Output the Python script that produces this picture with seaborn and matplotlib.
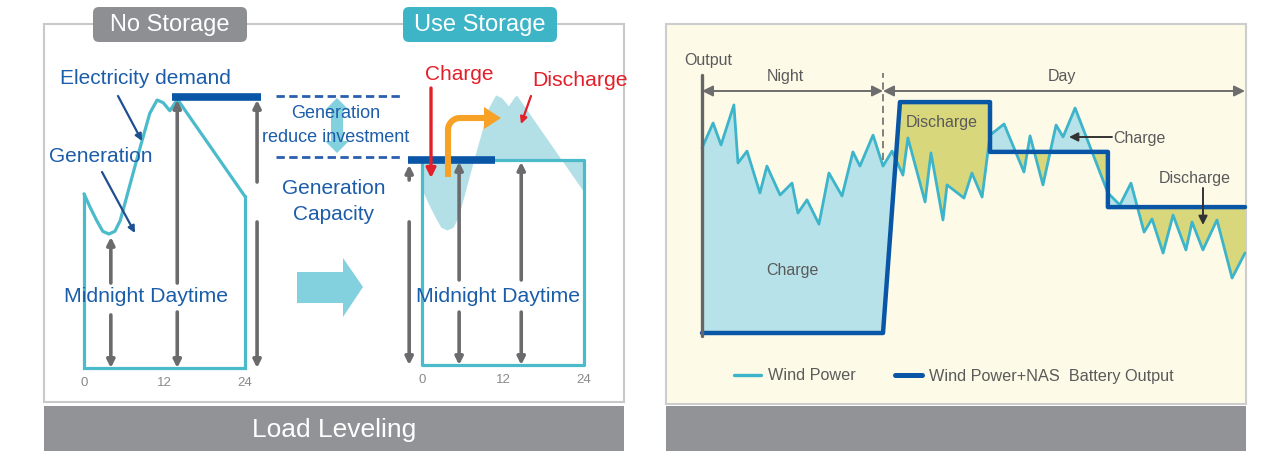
import numpy as np
import matplotlib
matplotlib.use("Agg")
import matplotlib.pyplot as plt
import seaborn as sns
from matplotlib.patches import FancyBboxPatch, Rectangle, Polygon
from matplotlib.lines import Line2D

# ---------------- data ----------------
# daily electricity demand (schematic, % of peak) by hour
demand_hours = [0, 0.9, 1.9, 2.8, 3.7, 4.6, 5.4, 8.0, 9.8, 10.9, 11.8, 12.8, 13.6, 14.0, 24]
demand = [65, 60, 55, 51, 50, 51, 55, 79, 95, 100, 99, 96, 99, 100, 64]
peak_level = 101
capacity = 76
tick_hours = [0, 12, 24]
tick_labels = ["0", "12", "24"]

# wind power output over a day (schematic units)
wind_t = [0.00, 0.49, 0.84, 1.41, 1.59, 1.99, 2.56, 2.87, 3.45, 3.98, 4.24, 4.64, 5.17, 5.61,
          6.19, 6.67, 6.98, 7.56, 8.00, 8.40, 8.88, 9.10, 9.86, 10.12, 10.65, 10.83, 11.58,
          11.93, 12.38, 12.73, 13.35, 14.23, 14.50, 15.07, 15.65, 15.96, 16.49, 17.94, 18.47,
          18.96, 19.54, 19.89, 20.38, 20.82, 21.39, 21.66, 22.14, 22.76, 23.43, 24.00]
wind_power = [71.7, 81.4, 72.9, 88.4, 65.9, 70.5, 54.3, 64.7, 53.5, 58.1, 46.5, 51.6, 42.2, 62.0,
              53.1, 70.2, 64.7, 76.7, 64.7, 70.5, 61.2, 75.6, 50.8, 69.8, 43.8, 57.4, 52.3,
              62.0, 52.7, 76.7, 81.0, 62.4, 76.4, 57.4, 80.6, 76.0, 87.2, 54.3, 49.6,
              58.1, 39.1, 44.2, 31.0, 45.7, 32.2, 43.0, 32.2, 43.8, 21.3, 31.0]
# wind power + NAS battery output (step schedule)
battery_t = [0, 8.0, 8.75, 12.73, 12.73, 17.94, 17.94, 24]
battery_output = [0, 0, 89.5, 89.5, 70.2, 70.2, 48.8, 48.8]

# ---------------- style ----------------
sns.set_theme(style="white")
SANS = ["Liberation Sans", "DejaVu Sans"]
NARROW = ["Liberation Sans", "DejaVu Sans"]
plt.rcParams["font.family"] = SANS

W, H = 1275, 451
CYAN = "#4BBACB"
DBLUE = "#0A56A6"
TBLUE = "#1C5DA9"
GRAY_ARROW = "#6B6B6D"
LIGHT = "#B3E0E7"
BIGARROW = "#83D0DF"
ORANGE = "#F7A127"
RED = "#E3202A"
CREAM = "#FDFAE8"
BARGRAY = "#929397"
WIND = "#3CB4CA"
CHG = "#B8E2E9"
DIS = "#D9D77B"
TXTGRAY = "#5A5A5A"

fig = plt.figure(figsize=(W / 100, H / 100), dpi=100)
fig.patch.set_facecolor("white")


def full_axes(z):
    a = fig.add_axes([0, 0, 1, 1], zorder=z)
    a.set_xlim(0, W)
    a.set_ylim(H, 0)
    a.axis("off")
    a.patch.set_alpha(0)
    return a


def px_axes(x0, x1, ytop, ybot, z=1):
    a = fig.add_axes([x0 / W, 1 - ybot / H, (x1 - x0) / W, (ybot - ytop) / H], zorder=z)
    a.patch.set_alpha(0)
    for s in a.spines.values():
        s.set_visible(False)
    return a


bg = full_axes(0)
fg = full_axes(3)

# ---------------- panel frames ----------------
bg.add_patch(Rectangle((44, 24), 580, 378, facecolor="white", edgecolor="#C9C9C9", lw=1.5))
bg.add_patch(Rectangle((44, 406), 580, 46, facecolor=BARGRAY, edgecolor="none"))
bg.text(334, 430, "Load Leveling", color="white", fontsize=19, ha="center", va="center")
bg.add_patch(Rectangle((666, 24), 580, 380, facecolor=CREAM, edgecolor="#CDCDCD", lw=1.5))
bg.add_patch(Rectangle((666, 406), 580, 46, facecolor=BARGRAY, edgecolor="none"))

# title tags
for x0, txt, col in [(93, "No Storage", "#8E8F93"), (403, "Use Storage", "#3DB5C6")]:
    fg.add_patch(FancyBboxPatch((x0 + 4, 11), 146, 27, boxstyle="round,pad=4,rounding_size=6",
                                facecolor=col, edgecolor="none"))
    fg.text(x0 + 77, 25.5, txt, color="white", fontsize=17, ha="center", va="center")

# ---------------- No Storage diagram ----------------
ax1 = px_axes(84, 245, 100, 368)
ax1.set_xlim(0, 24)
ax1.set_ylim(0, 100)
sns.lineplot(x=demand_hours, y=demand, ax=ax1, color=CYAN, lw=2.3, sort=False,
             estimator=None, clip_on=False)
ax1.plot([0, 0, 24, 24], [demand[0], 0, 0, demand[-1]], color=CYAN, lw=2.3,
         clip_on=False, solid_joinstyle="miter")
ax1.plot([13.1, 26.4], [peak_level, peak_level], color=DBLUE, lw=5.5, clip_on=False,
         solid_capstyle="butt")

# ---------------- Use Storage diagram ----------------
ax2 = px_axes(422, 584, 95, 365)
ax2.set_xlim(0, 24)
ax2.set_ylim(0, 100)
ax2.fill_between(demand_hours, demand, capacity, color=LIGHT, lw=0, clip_on=False)
ax2.plot([0, 0, 24, 24, 0], [capacity, 0, 0, capacity, capacity], color=CYAN, lw=2.3,
         clip_on=False)
ax2.plot([-2.07, 10.8], [capacity, capacity], color=DBLUE, lw=5.5, clip_on=False,
         solid_capstyle="butt")

for a, pad in [(ax1, 6.5), (ax2, 6.5)]:
    a.set_xticks(tick_hours)
    a.set_xticklabels(tick_labels, family=NARROW, color="#8A8A8A", fontsize=9.5)
    a.set_yticks([])
    a.tick_params(axis="x", length=0, pad=pad)


def gray_arrow(a, x, y0, y1, head_at_end=True):
    a.annotate("", xy=(x, y1), xytext=(x, y0), annotation_clip=False,
               arrowprops=dict(arrowstyle="-|>" if head_at_end else "-", color=GRAY_ARROW,
                               lw=2.6, mutation_scale=11, shrinkA=0, shrinkB=0))


# No Storage measurement arrows (x, top, gap top, gap bottom, bottom)
for x, top, g1, g2 in [(4.0, 48.9, 31.7, 19.8), (13.9, 100, 31.7, 20.9), (25.8, 100, 69.4, 54.5)]:
    gray_arrow(ax1, x, g1, top)
    gray_arrow(ax1, x, g2, 0)
# Use Storage measurement arrows
for x, top, g1, g2 in [(-1.9, 74.1, 68.5, 53.0), (5.5, 75.2, 31.5, 19.6), (14.7, 75.2, 31.5, 19.6)]:
    gray_arrow(ax2, x, g1, top)
    gray_arrow(ax2, x, g2, 0)

# ---------------- left annotations ----------------
fg.text(145, 78, "Electricity demand", color=TBLUE, fontsize=15, ha="center", va="center")
fg.text(101, 157, "Generation", color=TBLUE, fontsize=15, ha="center", va="center")
fg.annotate("", xy=(142, 141), xytext=(118, 96),
            arrowprops=dict(arrowstyle="-|>", color="#1D4F91", lw=1.6, mutation_scale=10,
                            shrinkA=0, shrinkB=0))
fg.annotate("", xy=(135, 233), xytext=(102, 172),
            arrowprops=dict(arrowstyle="-|>", color="#1D4F91", lw=1.6, mutation_scale=10,
                            shrinkA=0, shrinkB=0))
for x in (146, 498):
    fg.text(x, 297, "Midnight Daytime", color=TBLUE, fontsize=15.3, ha="center", va="center")

# middle: investment reduction
for y in (96, 157):
    bg.plot([276, 402], [y, y], color="#2A5FAF", lw=2, ls=(0, (3, 1.6)))
bg.add_patch(Polygon([(337, 98), (349, 110), (343, 110), (343, 141), (349, 141), (337, 153),
                      (325, 141), (331, 141), (331, 110), (325, 110)],
                     closed=True, facecolor=BIGARROW, edgecolor="none"))
fg.text(336, 114, "Generation", color=TBLUE, fontsize=13, ha="center", va="center")
fg.text(336, 137, "reduce investment", color=TBLUE, fontsize=13, ha="center", va="center")
fg.text(334, 189, "Generation", color=TBLUE, fontsize=15, ha="center", va="center")
fg.text(334, 215, "Capacity", color=TBLUE, fontsize=15, ha="center", va="center")
bg.add_patch(Polygon([(297, 272), (343, 272), (343, 258), (363, 287), (343, 317), (343, 303),
                      (297, 303)], closed=True, facecolor=BIGARROW, edgecolor="none"))

# charge / discharge annotations
fg.text(459, 74, "Charge", color=RED, fontsize=15, ha="center", va="center")
fg.text(580, 80, "Discharge", color=RED, fontsize=15.3, ha="center", va="center")
fg.annotate("", xy=(431, 178), xytext=(431, 88),
            arrowprops=dict(arrowstyle="-|>", color=RED, lw=2.4, mutation_scale=14,
                            shrinkA=0, shrinkB=0))
fg.annotate("", xy=(521, 124), xytext=(531, 96),
            arrowprops=dict(arrowstyle="-|>", color=RED, lw=1.6, mutation_scale=10,
                            shrinkA=0, shrinkB=0))
theta = np.linspace(np.pi, np.pi / 2, 12)
ox = np.concatenate([[448], 460 + 12 * np.cos(theta), [485]])
oy = np.concatenate([[177], 130 - 12 * np.sin(theta), [118]])
fg.plot(ox, oy, color=ORANGE, lw=4.4, solid_capstyle="butt", solid_joinstyle="round")
fg.add_patch(Polygon([(484, 107), (501, 118), (484, 129)], closed=True,
                     facecolor=ORANGE, edgecolor="none"))

# ---------------- wind power chart ----------------
ax3 = px_axes(702, 1245, 75, 333)
ax3.set_xlim(0, 24)
ax3.set_ylim(0, 100)
ax3.set_xticks([])
ax3.set_yticks([])
grid = np.linspace(0, 24, 4801)
w = np.interp(grid, wind_t, wind_power)
b = np.interp(grid, battery_t, battery_output)
ax3.fill_between(grid, w, b, where=w >= b, interpolate=True, color=CHG, lw=0)
ax3.fill_between(grid, w, b, where=w <= b, interpolate=True, color=DIS, lw=0)
sns.lineplot(x=wind_t, y=wind_power, ax=ax3, color=WIND, lw=2.0, sort=False,
             estimator=None, clip_on=False)
sns.lineplot(x=battery_t, y=battery_output, ax=ax3, color=DBLUE, lw=3.2, sort=False,
             estimator=None, clip_on=False)
ax3.plot([0, 0], [-1, 100], color="#666666", lw=2.4, clip_on=False, zorder=5)
ax3.plot([8.0, 8.0], [67, 100.8], color="#777777", lw=1.3, ls=(0, (4, 2.5)), clip_on=False)
for x0, x1 in [(0, 8.0), (8.0, 24)]:
    ax3.annotate("", xy=(x1, 93.8), xytext=(x0, 93.8), annotation_clip=False,
                 arrowprops=dict(arrowstyle="<|-|>", color="#6D6D6D", lw=1.4,
                                 mutation_scale=16, shrinkA=0, shrinkB=0))

tk = dict(family=NARROW, color=TXTGRAY, fontsize=11.5, ha="center", va="center")
fg.text(708, 60, "Output", **tk)
fg.text(785, 76, "Night", **tk)
fg.text(1062, 76, "Day", **tk)
fg.text(942, 122, "Discharge", **tk)
fg.text(792, 270, "Charge", **tk)
fg.text(1139, 138, "Charge", **tk)
fg.text(1195, 178, "Discharge", **tk)
fg.annotate("", xy=(1069, 137), xytext=(1112, 137),
            arrowprops=dict(arrowstyle="-|>", color="#333333", lw=1.4, mutation_scale=13,
                            shrinkA=0, shrinkB=0))
fg.annotate("", xy=(1203, 225), xytext=(1203, 188),
            arrowprops=dict(arrowstyle="-|>", color="#333333", lw=1.4, mutation_scale=13,
                            shrinkA=0, shrinkB=0))

handles = [Line2D([], [], color=WIND, lw=2.4), Line2D([], [], color=DBLUE, lw=3.6)]
leg = fig.legend(handles, ["Wind Power", "Wind Power+NAS  Battery Output"], loc="center",
                 bbox_to_anchor=(954 / W, 1 - 376 / H), ncol=2, frameon=False,
                 handlelength=1.66, handletextpad=0.43, columnspacing=2.45,
                 prop=dict(family=NARROW, size=11.7))
for t in leg.get_texts():
    t.set_color(TXTGRAY)

fig.savefig("out.png", dpi=100, facecolor="white")
